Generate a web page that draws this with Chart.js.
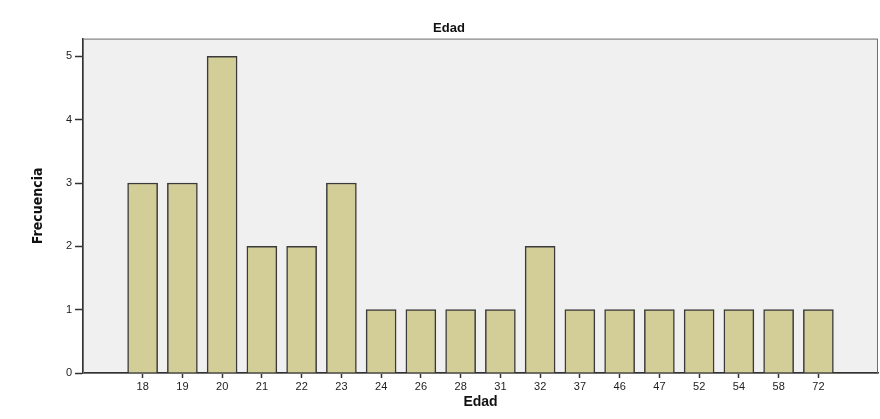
<!DOCTYPE html>
<html>
<head>
<meta charset="utf-8">
<script src="https://cdn.jsdelivr.net/npm/chart.js@4"></script>
<style>
  html, body { margin: 0; padding: 0; background: #ffffff; }
  #wrap { width: 880px; height: 419px; }
</style>
</head>
<body>
<div id="wrap"><canvas id="my-chart" width="880" height="419"></canvas></div>
<script>
const edades = ["18", "19", "20", "21", "22", "23", "24", "26", "28", "31", "32", "37", "46", "47", "52", "54", "58", "72"];
const frecuencias = [3, 3, 5, 2, 2, 3, 1, 1, 1, 1, 2, 1, 1, 1, 1, 1, 1, 1];
const yTicks = [0, 1, 2, 3, 4, 5];

const plotFrame = {
  id: "plotFrame",
  beforeDraw(chart) {
    const { ctx, chartArea: a } = chart;
    ctx.save();
    ctx.fillStyle = "#f0f0f0";
    ctx.fillRect(a.left, a.top, a.width, a.height);
    ctx.restore();
  },
  afterDraw(chart) {
    const { ctx, chartArea: a } = chart;
    ctx.save();
    ctx.strokeStyle = "#6e6e6e";
    ctx.lineWidth = 1;
    ctx.strokeRect(a.left + 0.5, a.top + 0.5, a.width - 1, a.height);
    ctx.restore();
  }
};

const ctx = document.getElementById("my-chart");

new Chart(ctx, {
  type: "bar",
  data: {
    datasets: [
      {
        label: "Frecuencia",
        data: frecuencias.map((v, i) => ({ x: i, y: v })),
        backgroundColor: "#d3ce97",
        borderColor: "#3a3a3a",
        borderWidth: 1.5,
        barThickness: 30
      }
    ]
  },
  options: {
    responsive: false,
    animation: false,
    layout: {
      padding: { left: 20, right: 2, top: 0, bottom: 0 }
    },
    plugins: {
      legend: { display: false },
      tooltip: { enabled: false },
      title: {
        display: true,
        text: "Edad",
        color: "#111",
        font: { family: "Arial, 'Liberation Sans', sans-serif", size: 13, weight: "bold" },
        padding: { top: 21, bottom: 2 }
      }
    },
    scales: {
      x: {
        type: "linear",
        offset: false,
        min: -1.5,
        max: 18.5,
        afterBuildTicks: scale => {
          scale.ticks = edades.map((_, i) => ({ value: i }));
        },
        afterFit: scale => {
          scale.height = 46;
        },
        ticks: {
          autoSkip: false,
          maxRotation: 0,
          padding: 2,
          color: "#222",
          font: { family: "Arial, 'Liberation Sans', sans-serif", size: 11 },
          callback: v => edades[v]
        },
        grid: {
          offset: false,
          drawOnChartArea: false,
          drawTicks: true,
          tickLength: 5,
          tickColor: "#333",
          tickWidth: 1.5
        },
        border: { color: "#333", width: 1.5 },
        title: {
          display: true,
          text: "Edad",
          color: "#111",
          font: { family: "Arial, 'Liberation Sans', sans-serif", size: 14, weight: "bold" },
          padding: { top: 0, bottom: 8 }
        }
      },
      y: {
        min: 0,
        max: 5.28,
        afterBuildTicks: scale => {
          scale.ticks = yTicks.map(v => ({ value: v }));
        },
        afterFit: scale => {
          scale.width = 63;
        },
        ticks: {
          padding: 3,
          color: "#222",
          font: { family: "Arial, 'Liberation Sans', sans-serif", size: 11 }
        },
        grid: {
          drawOnChartArea: false,
          drawTicks: true,
          tickLength: 8,
          tickColor: "#333",
          tickWidth: 1.5
        },
        border: { color: "#333", width: 1.5 },
        title: {
          display: true,
          text: "Frecuencia",
          color: "#111",
          font: { family: "'Liberation Sans Narrow', 'DejaVu Sans Condensed', Arial, sans-serif", size: 14, weight: "bold" },
          padding: { top: 10, bottom: 0 }
        }
      }
    }
  },
  plugins: [plotFrame]
});
</script>
</body>
</html>
